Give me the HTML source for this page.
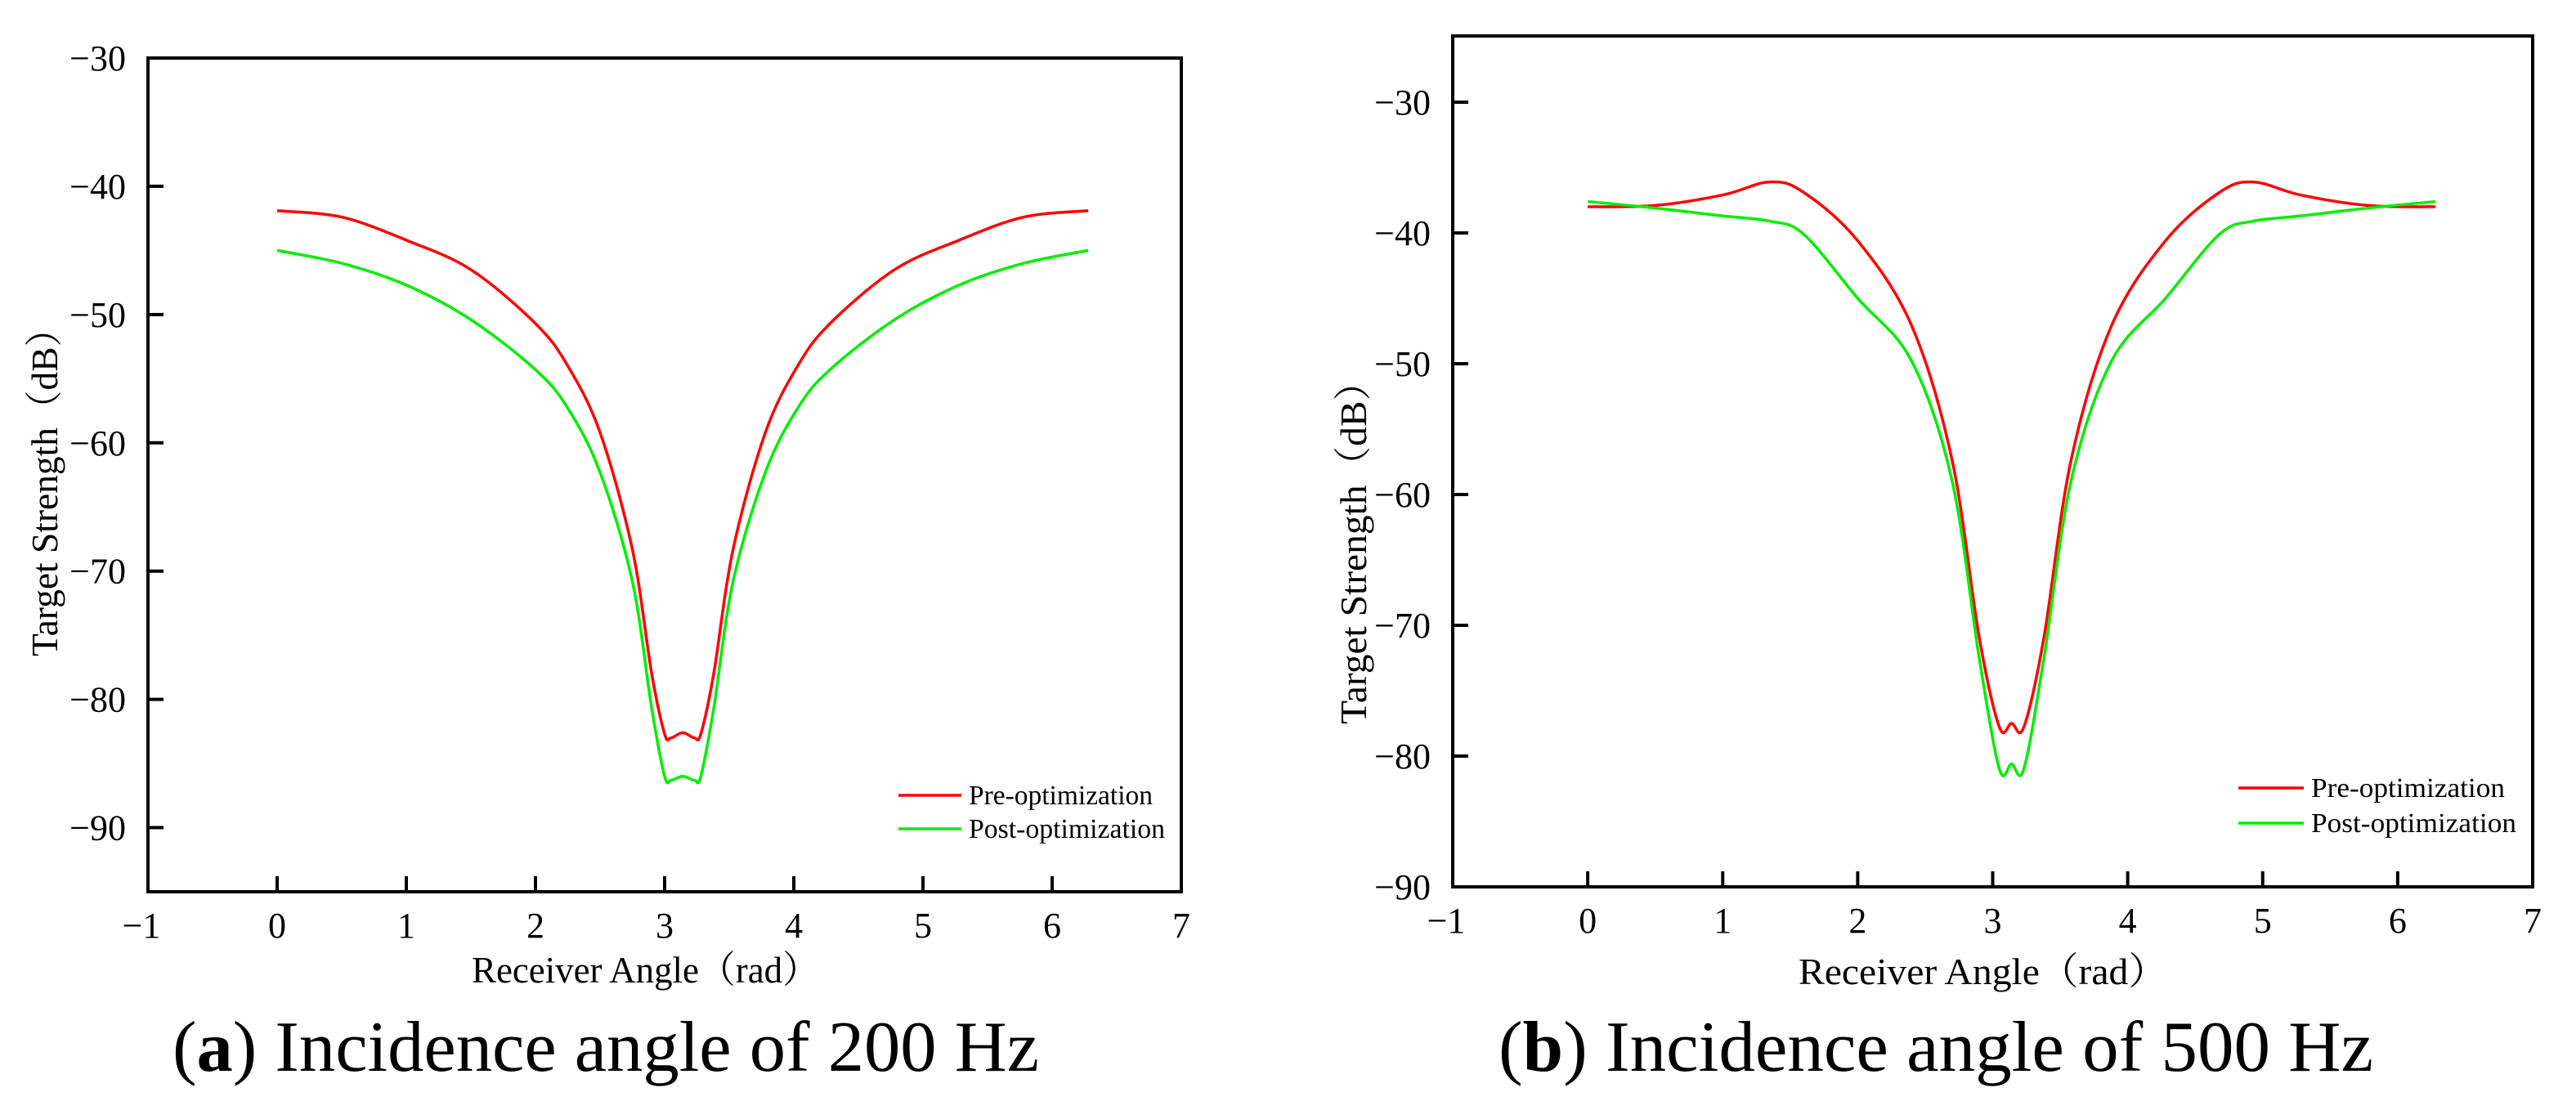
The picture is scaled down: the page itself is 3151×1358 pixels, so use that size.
<!DOCTYPE html>
<html><head><meta charset="utf-8"><style>
html,body{margin:0;padding:0;background:#fff;}
svg{display:block;font-family:"Liberation Serif","Noto Serif CJK SC",serif;}
</style></head><body>
<svg id="root" width="3151" height="1358" viewBox="0 0 3151 1358" xmlns="http://www.w3.org/2000/svg"></svg>
<script>
// Chart (a) 200 Hz
const xA = [0,0.5,1,1.5,2,2.25,2.5,2.75,2.9,3.0,3.05,3.14,3.23,3.28,3.38,3.53,3.78,4.03,4.28,4.78,5.28,5.78,6.28];
const preA = [-41.9,-42.4,-44.2,-46.5,-50.7,-54,-59.2,-68.3,-78,-82.7,-83,-82.6,-83,-82.7,-78,-68.3,-59.2,-54,-50.7,-46.5,-44.2,-42.4,-41.9];
const postA = [-45,-46,-47.7,-50.4,-54.3,-57.3,-62.3,-70.8,-80.7,-86,-86.3,-86,-86.3,-86,-80.7,-70.8,-62.3,-57.3,-54.3,-50.4,-47.7,-46,-45];
// Chart (b) 500 Hz
const xB = [0,0.5,1,1.35,1.6,2,2.4,2.7,2.9,3.05,3.14,3.23,3.38,3.58,3.88,4.28,4.68,4.93,5.28,5.78,6.28];
const preB = [-38,-37.9,-37.1,-36.1,-36.9,-40.6,-47.1,-57.4,-70.9,-77.8,-77.5,-77.8,-70.9,-57.4,-47.1,-40.6,-36.9,-36.1,-37.1,-37.9,-38];
const postB = [-37.6,-38.1,-38.7,-39.1,-40.1,-45,-49.8,-59,-72.5,-81,-80.6,-81,-72.5,-59,-49.8,-45,-40.1,-39.1,-38.7,-38.1,-37.6];
const xTicks = [-1,0,1,2,3,4,5,6,7];
const yTicksA = [-30,-40,-50,-60,-70,-80,-90];
const yTicksB = [-30,-40,-50,-60,-70,-80,-90];

const NS="http://www.w3.org/2000/svg";
const root=document.getElementById('root');
function mk(tag,attrs,parent){const e=document.createElementNS(NS,tag);for(const k in attrs)e.setAttribute(k,attrs[k]);(parent||root).appendChild(e);return e;}
function smooth(pts){let d=`M${pts[0][0]},${pts[0][1]}`;for(let i=0;i<pts.length-1;i++){const p0=pts[Math.max(0,i-1)],p1=pts[i],p2=pts[i+1],p3=pts[Math.min(pts.length-1,i+2)];const c1=[p1[0]+(p2[0]-p0[0])/6,p1[1]+(p2[1]-p0[1])/6],c2=[p2[0]-(p3[0]-p1[0])/6,p2[1]-(p3[1]-p1[1])/6];d+=` C${c1[0]},${c1[1]} ${c2[0]},${c2[1]} ${p2[0]},${p2[1]}`;}return d;}

function chart(cfg){
  const g=mk('g',{});
  
  
  const sx=v=>cfg.L+(v-(-1))*(cfg.R-cfg.L)/8;
  const sy=v=>cfg.T+(cfg.yTop-v)*(cfg.B-cfg.T)/(cfg.yTop-cfg.yBot);
  const frame=mk('rect',{x:cfg.L,y:cfg.T,width:cfg.R-cfg.L,height:cfg.B-cfg.T,fill:'none',stroke:'#000','stroke-width':4},g);
  
  
  cfg.yTicks.forEach(v=>{
    const y=sy(v);
    if(Math.abs(y-cfg.T)>2&&Math.abs(y-cfg.B)>2){const t=mk('line',{x1:cfg.L,x2:cfg.L+19,y1:y,y2:y,stroke:'#000','stroke-width':4},g);
    
    }
    const tx=mk('text',{x:cfg.L-27,y:y+15,'font-size':44,'text-anchor':'end'},g);
    tx.textContent='\u2212'+Math.abs(v);
    
    
  });
  xTicks.forEach(v=>{
    const x=sx(v);
    if(v>-1&&v<7){const t=mk('line',{x1:x,x2:x,y1:cfg.B,y2:cfg.B-19,stroke:'#000','stroke-width':4},g);
    
    }
    const tx=mk('text',{x:v<0?x-8:x,y:cfg.B+56,'font-size':44,'text-anchor':'middle'},g);
    tx.textContent=v<0?'\u2212'+Math.abs(v):String(v);
    
    
  });
  [[cfg.pre,'#ff0000','pre-optimization-line'],[cfg.post,'#00ee00','post-optimization-line']].forEach(([arr,c,n])=>{
    const pts=cfg.xs.map((x,i)=>[sx(x),sy(arr[i])]);
    const p=mk('path',{d:smooth(pts),fill:'none',stroke:c,'stroke-width':3.5},g);
    
    
  });
  const xt=mk('text',{x:cfg.xtX,y:cfg.xtY,'font-size':46,textLength:cfg.xtW,lengthAdjust:'spacingAndGlyphs'},g);
  xt.textContent='Receiver Angle（rad）';
  
  
  const yt=mk('text',{x:-cfg.ytY1,y:cfg.ytX,'font-size':46,transform:'rotate(-90)',textLength:cfg.ytY1-cfg.ytY0,lengthAdjust:'spacingAndGlyphs'},g);
  yt.textContent='Target Strength（dB）';
  
  
  [['Pre-optimization','#ff0000',cfg.legY1,cfg.preW],['Post-optimization','#00ee00',cfg.legY2,cfg.postW]].forEach(([t,c,y,w])=>{
    const l=mk('line',{x1:cfg.legX,x2:cfg.legX+cfg.legL,y1:y,y2:y,stroke:c,'stroke-width':3.5},g);
    
    
    const tx=mk('text',{x:cfg.legX+cfg.legL+9,y:y+11,'font-size':34,textLength:w,lengthAdjust:'spacingAndGlyphs'},g);
    tx.textContent=t;
    
    
  });
  const cap=mk('text',{x:cfg.capX,y:1310,'font-size':88,textLength:cfg.capW,lengthAdjust:'spacingAndGlyphs'},g);
  cap.innerHTML=`(<tspan font-weight="bold">${cfg.letter}</tspan>) Incidence angle of ${cfg.hz} Hz`;
  
  
}
chart({name:'chart-200hz',L:181,R:1445,T:71,B:1091,yTop:-30,yBot:-95,yTicks:yTicksA,xs:xA,pre:preA,post:postA,
  xtX:577,xtY:1202,xtW:425,ytX:70,ytY0:379,ytY1:803,legX:1099,legL:77,legY1:973,legY2:1014,preW:225,postW:240,
  capX:211,capW:1060,letter:'a',hz:200});
chart({name:'chart-500hz',L:1777,R:3098,T:44,B:1085,yTop:-24.94,yBot:-90,yTicks:yTicksB,xs:xB,pre:preB,post:postB,
  xtX:2200,xtY:1204,xtW:451,ytX:1671,ytY0:443,ytY1:886,legX:2738,legL:80,legY1:964,legY2:1007,preW:237,postW:251,
  capX:1833,capW:1070,letter:'b',hz:500});
</script>
</body></html>
